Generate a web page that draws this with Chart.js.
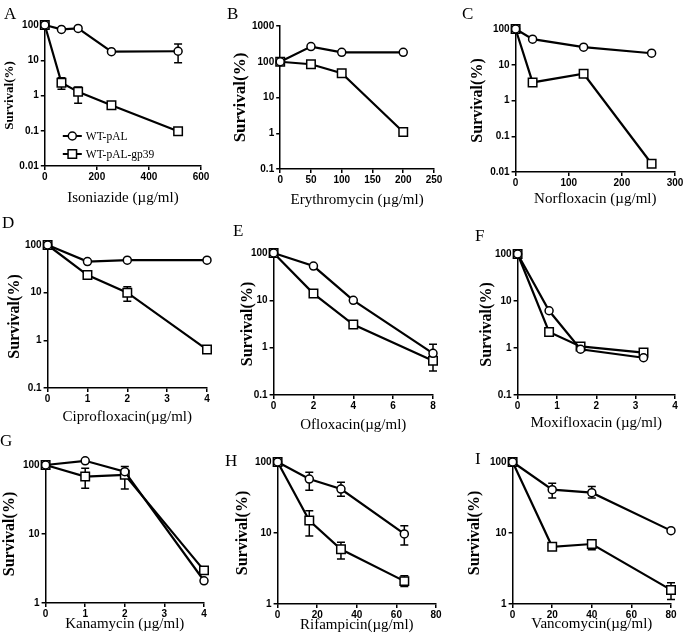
<!DOCTYPE html>
<html><head><meta charset="utf-8">
<script src="https://cdn.jsdelivr.net/npm/chart.js@4.4.0/dist/chart.umd.min.js"></script>
<style>
html,body{margin:0;padding:0;background:#fff;overflow:hidden;width:685px;height:644px;}
#root{position:relative;width:685px;height:644px;}
canvas{position:absolute;}
.lbl{position:absolute;font-family:"Liberation Serif","Times New Roman",serif;font-size:17px;line-height:17px;color:#000;}
</style></head><body>
<div id="root"></div>
<script>
// ---------- DATA ----------
const seriesLabels = ['WT-pAL', 'WT-pAL-gp39'];

const A_x = [0, 64, 128, 256, 512];
const A_wt = [100, 75, 80, 17.5, 18];
const A_wtErr = [null, null, null, null, [8.5, 29]];
const A_gp = [100, 2.3, 1.27, 0.53, 0.097];
const A_gpErr = [null, [1.5, 3.2], [0.6, 1.75], null, null];
const A_yTicks = [0.01, 0.1, 1, 10, 100];
const A_xTicks = [0, 200, 400, 600];

const B_x = [0, 50, 100, 200];
const B_wt = [100, 265, 184, 184];
const B_gp = [100, 85, 48, 1.08];
const B_yTicks = [0.1, 1, 10, 100, 1000];
const B_xTicks = [0, 50, 100, 150, 200, 250];

const C_x = [0, 32, 128, 256];
const C_wt = [100, 52, 31, 21];
const C_gp = [100, 3.2, 5.6, 0.017];
const C_yTicks = [0.01, 0.1, 1, 10, 100];
const C_xTicks = [0, 100, 200, 300];

const D_x = [0, 1, 2, 4];
const D_wt = [100, 45, 48, 48];
const D_gp = [100, 23.4, 10, 0.64];
const D_gpErr = [null, null, [6.6, 13.3], null];
const D_yTicks = [0.1, 1, 10, 100];
const D_xTicks = [0, 1, 2, 3, 4];

const E_x = [0, 2, 4, 8];
const E_wt = [100, 53, 10, 0.76];
const E_wtErr = [null, null, null, [0.5, 1.18]];
const E_gp = [100, 13.9, 3.08, 0.53];
const E_gpErr = [null, null, null, [0.32, 0.7]];
const E_yTicks = [0.1, 1, 10, 100];
const E_xTicks = [0, 2, 4, 6, 8];

const F_x = [0, 0.8, 1.6, 3.2];
const F_wt = [100, 6.2, 0.94, 0.62];
const F_gp = [100, 2.2, 1.08, 0.8];
const F_yTicks = [0.1, 1, 10, 100];
const F_xTicks = [0, 1, 2, 3, 4];

const G_x = [0, 1, 2, 4];
const G_wt = [100, 115, 80, 2.1];
const G_gp = [100, 68, 72, 2.97];
const G_gpErr = [null, [46, 90], [45, 95], null];
const G_yTicks = [1, 10, 100];
const G_xTicks = [0, 1, 2, 3, 4];

const H_x = [0, 16, 32, 64];
const H_wt = [100, 57.5, 41.6, 9.7];
const H_wtErr = [null, [40, 72], [33, 52], [6.8, 12.6]];
const H_gp = [100, 15, 5.9, 2.1];
const H_gpErr = [null, [9.1, 20.6], [4.3, 7.4], [1.76, 2.5]];
const H_yTicks = [1, 10, 100];
const H_xTicks = [0, 20, 40, 60, 80];

const I_x = [0, 20, 40, 80];
const I_wt = [100, 40.7, 37, 10.8];
const I_wtErr = [null, [31, 50], [31, 45], null];
const I_gp = [100, 6.4, 7.0, 1.58];
const I_gpErr = [null, null, [5.8, 8.0], [1.16, 2.0]];
const I_yTicks = [1, 10, 100];
const I_xTicks = [0, 20, 40, 60, 80];

const panelLetters = ['A','B','C','D','E','F','G','H','I'];
const xTitles = ['Isoniazide (\u00b5g/ml)','Erythromycin (\u00b5g/ml)','Norfloxacin (\u00b5g/ml)',
  'Ciprofloxacin(\u00b5g/ml)','Ofloxacin(\u00b5g/ml)','Moxifloxacin (\u00b5g/ml)',
  'Kanamycin (\u00b5g/ml)','Rifampicin(\u00b5g/ml)','Vancomycin(\u00b5g/ml)'];
const yTitle = 'Survival(%)';

// ---------- LAYOUT (positions only) ----------
const layout = [
  {L:45, R:201, T:25, B:166, yOff:35, xOff:32, yFs:13, lx:4,   ly:5},
  {L:280,R:434, T:26, B:169, yOff:40, xOff:31, yFs:17, lx:227, ly:5},
  {L:516,R:675, T:29, B:172, yOff:38, xOff:27, yFs:16, lx:462, ly:5},
  {L:48, R:207, T:245,B:388, yOff:33, xOff:29, yFs:16, lx:2,   ly:214},
  {L:274,R:433, T:253,B:395, yOff:26, xOff:30, yFs:16, lx:233, ly:222},
  {L:518,R:675, T:254,B:395, yOff:31, xOff:28, yFs:16, lx:475, ly:227},
  {L:46, R:204, T:465,B:603, yOff:36, xOff:21, yFs:16, lx:0,   ly:432},
  {L:278,R:436, T:462,B:604, yOff:35, xOff:21, yFs:16, lx:225, ly:452},
  {L:513,R:671, T:462,B:604, yOff:38, xOff:20, yFs:16, lx:475, ly:450}
];

const panelData = [
  {x:A_x, wt:A_wt, wtErr:A_wtErr, gp:A_gp, gpErr:A_gpErr, yT:A_yTicks, xT:A_xTicks, legend:true},
  {x:B_x, wt:B_wt, gp:B_gp, yT:B_yTicks, xT:B_xTicks},
  {x:C_x, wt:C_wt, gp:C_gp, yT:C_yTicks, xT:C_xTicks},
  {x:D_x, wt:D_wt, gp:D_gp, gpErr:D_gpErr, yT:D_yTicks, xT:D_xTicks},
  {x:E_x, wt:E_wt, wtErr:E_wtErr, gp:E_gp, gpErr:E_gpErr, yT:E_yTicks, xT:E_xTicks},
  {x:F_x, wt:F_wt, gp:F_gp, yT:F_yTicks, xT:F_xTicks},
  {x:G_x, wt:G_wt, gp:G_gp, gpErr:G_gpErr, yT:G_yTicks, xT:G_xTicks},
  {x:H_x, wt:H_wt, wtErr:H_wtErr, gp:H_gp, gpErr:H_gpErr, yT:H_yTicks, xT:H_xTicks},
  {x:I_x, wt:I_wt, wtErr:I_wtErr, gp:I_gp, gpErr:I_gpErr, yT:I_yTicks, xT:I_xTicks}
];

// ---------- PLUGINS ----------
const errorBars = {
  id: 'errorBars',
  beforeDatasetsDraw(chart) {
    const ctx = chart.ctx, xs = chart.scales.x, ys = chart.scales.y;
    chart.data.datasets.forEach(ds => {
      if (!ds.errs) return;
      ctx.save();
      ctx.strokeStyle = '#000'; ctx.lineWidth = 1.5;
      ds.errs.forEach((e, j) => {
        if (!e) return;
        const px = xs.getPixelForValue(ds.data[j].x);
        const y1 = ys.getPixelForValue(e[0]), y2 = ys.getPixelForValue(e[1]);
        ctx.beginPath();
        ctx.moveTo(px, y1); ctx.lineTo(px, y2);
        ctx.moveTo(px - 4, y1); ctx.lineTo(px + 4, y1);
        ctx.moveTo(px - 4, y2); ctx.lineTo(px + 4, y2);
        ctx.stroke();
      });
      ctx.restore();
    });
  }
};

const insideLegend = {
  id: 'insideLegend',
  afterDatasetsDraw(chart, args, opts) {
    if (!opts || !opts.show) return;
    const ctx = chart.ctx, a = chart.chartArea;
    chart.data.datasets.forEach((ds, i) => {
      const y = a.top + opts.y0 + i * opts.dy;
      const x0 = a.left + opts.x0;
      ctx.save();
      ctx.strokeStyle = '#000'; ctx.lineWidth = 2;
      ctx.beginPath(); ctx.moveTo(x0, y); ctx.lineTo(x0 + opts.len, y); ctx.stroke();
      const cx = x0 + opts.len / 2;
      ctx.fillStyle = '#fff'; ctx.lineWidth = 1.5;
      ctx.beginPath();
      if (ds.pointStyle === 'rect') {
        const s = ds.pointRadius * Math.SQRT1_2;
        ctx.rect(cx - s, y - s, 2 * s, 2 * s);
      } else {
        ctx.arc(cx, y, ds.pointRadius, 0, Math.PI * 2);
      }
      ctx.fill(); ctx.stroke();
      ctx.fillStyle = '#000';
      ctx.font = '11.5px "Liberation Serif", "Times New Roman", serif';
      ctx.textBaseline = 'middle';
      ctx.textAlign = 'left';
      ctx.fillText(ds.label, x0 + opts.len + 4, y + 0.5);
      ctx.restore();
    });
  }
};

// ---------- BUILD ----------
const root = document.getElementById('root');
const PAD_T = 10;
const tickFont = {family: '"Liberation Sans", Arial, sans-serif', size: 10, weight: 'bold'};

layout.forEach((g, k) => {
  const d = panelData[k];
  const yLH = g.yFs * 1.2, xFs = 15, xLH = xFs * 1.2;
  const W = g.yOff + yLH / 2;
  const H = g.xOff + xLH / 2;
  const padR = Math.min(16, 685 - g.R);
  const cw = Math.round((g.R - g.L) + W + padR);
  const ch = Math.round((g.B - g.T) + PAD_T + H);
  const cv = document.createElement('canvas');
  cv.width = cw; cv.height = ch;
  cv.style.left = (g.L - W) + 'px';
  cv.style.top = (g.T - PAD_T) + 'px';
  cv.style.width = cw + 'px'; cv.style.height = ch + 'px';
  root.appendChild(cv);

  const lbl = document.createElement('div');
  lbl.className = 'lbl';
  lbl.textContent = panelLetters[k];
  lbl.style.left = g.lx + 'px'; lbl.style.top = g.ly + 'px';
  root.appendChild(lbl);

  const mk = (arr) => d.x.map((xv, i) => ({x: xv, y: arr[i]}));
  const dsBase = {borderColor: '#000', borderWidth: 2.2, pointBackgroundColor: '#fff',
    pointBorderColor: '#000', pointBorderWidth: 1.5, tension: 0, fill: false, clip: false, showLine: true};

  new Chart(cv, {
    type: 'line',
    data: {
      datasets: [
        Object.assign({}, dsBase, {label: seriesLabels[0], data: mk(d.wt), errs: d.wtErr || null,
          pointStyle: 'circle', pointRadius: 4, pointHoverRadius: 4}),
        Object.assign({}, dsBase, {label: seriesLabels[1], data: mk(d.gp), errs: d.gpErr || null,
          pointStyle: 'rect', pointRadius: 6, pointHoverRadius: 6})
      ]
    },
    options: {
      responsive: false, maintainAspectRatio: false, animation: false, devicePixelRatio: 1,
      events: [],
      layout: {padding: {top: PAD_T, right: padR, left: 0, bottom: 0}},
      plugins: {legend: {display: false}, tooltip: {enabled: false},
        insideLegend: {show: !!d.legend, x0: 18, len: 19, y0: 111, dy: 18}},
      scales: {
        x: {
          type: 'linear', position: 'bottom', min: d.xT[0], max: d.xT[d.xT.length - 1],
          afterBuildTicks: s => { s.ticks = d.xT.map(v => ({value: v})); },
          afterFit: s => { s.height = H; },
          ticks: {font: tickFont, color: '#000', padding: 1, maxRotation: 0, minRotation: 0, autoSkip: false,
            callback: v => String(v)},
          grid: {display: true, drawOnChartArea: false, drawTicks: true, tickLength: 4, color: '#000', lineWidth: 1.5},
          border: {display: true, color: '#000', width: 1.5},
          title: {display: true, text: xTitles[k], color: '#000', padding: 0,
            font: {family: '"Liberation Serif", "Times New Roman", serif', size: xFs}}
        },
        y: {
          type: 'logarithmic', position: 'left', min: d.yT[0], max: d.yT[d.yT.length - 1],
          afterBuildTicks: s => { s.ticks = d.yT.map(v => ({value: v})); },
          afterFit: s => { s.width = W; },
          ticks: {font: tickFont, color: '#000', padding: 2, autoSkip: false, callback: v => String(v)},
          grid: {display: true, drawOnChartArea: false, drawTicks: true, tickLength: 4, color: '#000', lineWidth: 1.5},
          border: {display: true, color: '#000', width: 1.5},
          title: {display: true, text: yTitle, color: '#000', padding: 0,
            font: {family: '"Liberation Serif", "Times New Roman", serif', size: g.yFs, weight: 'bold'}}
        }
      }
    },
    plugins: [errorBars, insideLegend]
  });
});
</script>
</body></html>
